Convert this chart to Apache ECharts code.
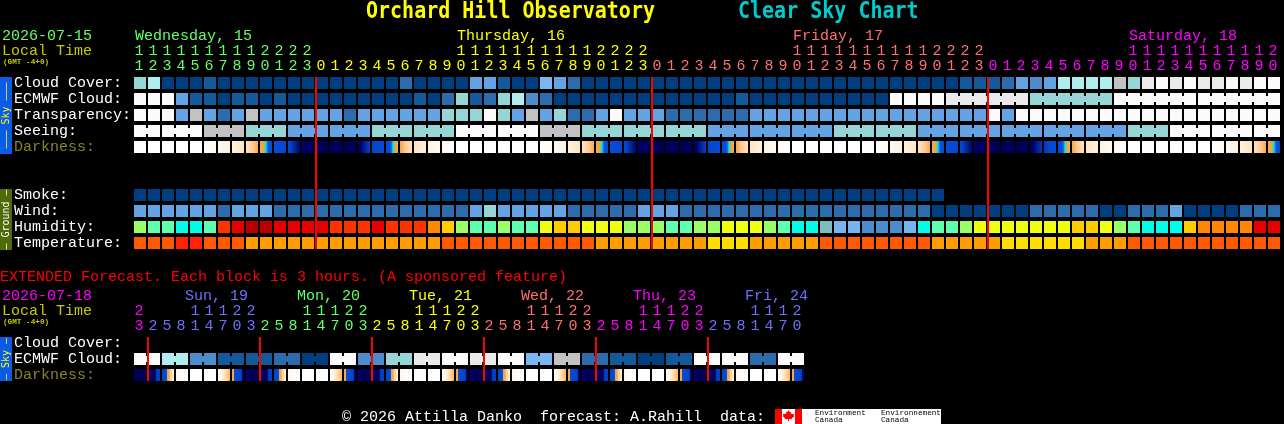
<!DOCTYPE html>
<html><head><meta charset="utf-8">
<style>html,body{margin:0;padding:0;background:#000;overflow:hidden}#c{width:1284px;height:424px}</style>
<script src="https://cdn.jsdelivr.net/npm/echarts@6/dist/echarts.min.js"></script>
</head><body><div id="c"></div>
<script>
const hourLabels = [11,12,13,14,15,16,17,18,19,20,21,22,23,
 0,1,2,3,4,5,6,7,8,9,10,11,12,13,14,15,16,17,18,19,20,21,22,23,
 0,1,2,3,4,5,6,7,8,9,10,11,12,13,14,15,16,17,18,19,20,21,22,23,
 0,1,2,3,4,5,6,7,8,9,10,11,12,13,14,15,16,17,18,19,20];
const rowLabels = ['Cloud Cover:','ECMWF Cloud:','Transparency:','Seeing:','Darkness:','','','Smoke:','Wind:','Humidity:','Temperature:'];
const cloudCover = [60,70,0,0,0,10,0,0,0,0,
 0,0,0,0,0,0,0,0,0,20,
 0,0,0,0,40,40,10,0,0,50,
 40,20,0,0,0,0,0,0,0,0,
 0,0,0,0,0,0,0,0,0,0,
 0,0,0,0,0,0,0,0,0,10,
 10,10,20,40,30,40,70,70,70,70,
 80,60,90,100,90,100,90,90,100,90,
 100,100];
const ecmwfCloud = [100,100,100,40,10,10,0,10,10,0,
 10,0,0,0,0,0,0,0,0,0,
 10,0,20,60,10,20,60,70,30,20,
 0,0,0,0,0,0,0,0,0,0,
 0,0,0,10,0,0,0,0,0,0,
 0,0,0,0,100,100,100,100,90,90,
 90,90,90,90,60,60,60,60,60,60,
 100,100,100,100,100,100,100,100,100,100,
 100,100];
const transparency = [100,100,100,40,80,40,20,40,80,40,
 40,40,40,40,40,20,40,40,40,40,
 40,40,60,60,60,100,60,40,80,40,
 60,20,20,40,100,40,40,40,20,20,
 20,20,20,20,40,40,40,40,40,40,
 40,40,40,40,40,40,40,40,40,40,
 40,100,40,100,100,100,100,100,100,100,
 100,100,100,100,100,100,100,100,100,100,
 100,100];
const seeing = [100,100,100,100,100,80,80,80,60,60,
 60,40,40,40,40,40,40,60,60,60,
 60,60,60,100,100,100,100,100,100,80,
 80,80,60,60,60,60,60,60,60,60,
 60,40,40,40,40,40,40,40,40,40,
 60,60,60,60,60,60,40,40,40,40,
 40,40,40,40,40,40,40,40,40,40,
 40,60,60,60,100,100,100,100,100,100,
 100,100];
const darknessEdges = [-4,-4,-4,-4,-4,-4,-3.4,-2.8,-2.2,-0.3,
 2.2,2.8,5,5.5,5.5,5.5,5.5,3.2,2.5,-0.2,
 -2.2,-2.8,-3.4,-4,-4,-4,-4,-4,-4,-4,
 -3.4,-2.8,-2.2,-0.3,2.2,2.8,5,5.5,5.5,5.5,
 5.5,3.2,2.5,-0.2,-2.2,-2.8,-3.4,-4,-4,-4,
 -4,-4,-4,-4,-3.4,-2.8,-2.2,-0.3,2.2,2.8,
 5,5.5,5.5,5.5,5.5,3.5,2.5,-0.2,-2.2,-2.8,
 -3.4,-4,-4,-4,-4,-4,-4,-4,-3.4,-2.8,
 -2.2,-0.3,2.2];
const smoke = [0,0,0,0,0,0,0,0,0,0,
 0,0,0,0,0,0,0,0,0,0,
 0,0,0,0,0,0,0,0,0,0,
 0,0,0,0,0,0,0,0,0,0,
 0,0,0,0,0,0,0,0,0,0,
 0,0,0,0,0,0,0,0];
const wind = [14,14,14,14,14,14,8,14,14,14,
 8,8,8,8,8,8,8,8,8,8,
 8,8,8,8,14,20,14,14,14,14,
 14,8,8,8,8,8,14,14,14,8,
 8,8,8,8,8,8,8,8,8,8,
 8,8,8,8,8,8,8,3,3,3,
 3,3,3,3,8,8,8,8,8,3,
 3,8,8,8,14,3,3,3,3,8,
 8,8];
const humidity = [57,52,52,47,47,52,77,82,87,87,
 82,82,82,82,77,77,77,82,77,77,
 77,72,67,57,52,52,57,52,52,62,
 67,67,62,62,62,57,57,57,52,52,
 57,57,62,62,62,57,52,47,47,42,
 37,37,32,32,32,37,47,52,52,57,
 62,62,62,62,62,62,62,67,67,62,
 57,52,47,47,47,67,72,72,72,72,
 82,82];
const temperature = [27,27,27,32,32,27,27,27,22,22,
 22,22,22,22,22,22,22,22,22,22,
 22,22,27,27,27,27,27,27,27,27,
 27,27,27,22,22,22,22,22,22,22,
 22,18,18,18,22,22,22,22,22,27,
 27,27,27,27,27,27,27,22,22,22,
 22,22,18,18,18,18,18,18,22,22,
 22,27,27,27,27,27,27,27,27,27,
 27,27];
const midnightCols = [13,37,61];
const dayHeaders = [['Wednesday, 15',0],['Thursday, 16',23],['Friday, 17',47],['Saturday, 18',71]];

const extHourLabels = [23,2,5,8,11,14,17,20,23,2,5,8,11,14,17,20,23,2,5,8,11,14,17,20,23,
 2,5,8,11,14,17,20,23,2,5,8,11,14,17,20,23,2,5,8,11,14,17,20];
const extRowLabels = ['Cloud Cover:','ECMWF Cloud:','Darkness:'];
const extEcmwf = [100,100,70,70,30,30,10,10,10,10,
 20,20,0,0,100,100,35,35,60,60,
 90,90,100,100,90,90,100,100,50,50,
 80,80,20,20,10,10,0,0,10,10,
 100,100,100,100,20,20,100,100];
const extDarknessEdges = [5.5,5.5,3.2,-3,-4,-4,-4,-0.5,4.8,5.5,
 3.2,-3,-4,-4,-4,-0.5,4.8,5.5,3.2,-3,
 -4,-4,-4,-0.5,4.8,5.5,3.2,-3,-4,-4,
 -4,-0.5,4.8,5.5,3.2,-3,-4,-4,-4,-0.5,
 4.8,5.5,3.2,-3,-4,-4,-4,-0.5,4.8];
const extMidnightCols = [1,9,17,25,33,41];
const extDayHeaders = [['Sun, 19',4],['Mon, 20',12],['Tue, 21',20],['Wed, 22',28],['Thu, 23',36],['Fri, 24',44]];

const skyPalette = ['#003f7f','#135a9a','#2c6cad','#4c8ccc','#63a3e4','#7ab6f2','#95d5d5','#aeeeee','#c2c2c2','#eaeaea','#fbfbfb'];
const humPalette = [[35,'#4c8ccc'],[40,'#78b4f0'],[45,'#80bcbc'],[50,'#00ffe8'],[55,'#5fffb0'],[60,'#99ff66'],[65,'#eeff11'],[70,'#ffcc00'],[75,'#ff8800'],[80,'#ff3300'],[85,'#e80000'],[101,'#b80000']];
const tempPalette = [[20,'#ffdd00'],[25,'#ff9c00'],[30,'#ff5a00'],[60,'#ff2200']];
const windPalette = [[6,'#003f7f'],[12,'#2c6cad'],[17,'#63a3e4'],[99,'#95d5d5']];
const darkRamp = [[-4,'#ffffff'],[-3.4,'#fffaf2'],[-2.8,'#fff1dd'],[-2.2,'#ffe4c0'],[-1,'#ffc888'],[-0.3,'#f8a850'],[0.4,'#e8a840'],[0.7,'#60d090'],[0.95,'#10e0e0'],[1.25,'#0a78e0'],[1.6,'#0650d8'],[3,'#0648d0'],[4,'#002a9c'],[5,'#000070'],[5.5,'#000058']];
const extDarkRamp = [[-4,'#ffffff'],[-3,'#fff6ea'],[-2.2,'#ffe4c0'],[-1,'#ffc888'],[-0.3,'#f8a850'],[0.5,'#e8a840'],[0.6,'#0650d8'],[3.9,'#0040c0'],[4.1,'#000068'],[5.5,'#000058']];
const dayColors = ['#66ff66','#ffff00','#ff7070','#ff00ff','#7070ff'];
const WHITE='#ffffff', OLIVE='#85852a', LOCAL='#c8c800';
const MONO='"Liberation Mono", monospace';
const TITLE='bold 20px "DejaVu Sans Mono", monospace';
const SIDE='10px "DejaVu Sans Mono", monospace';
const FONT='15px '+MONO;

const sky = v => skyPalette[Math.floor(v/10)];
const thresh = p => v => p.find(t => v < t[0])[1];
function hex(c){return [1,3,5].map(i=>parseInt(c.substr(i,2),16));}
function ramp(m,stops){
  for(let i=1;i<stops.length;i++){
    if(m<=stops[i][0]){
      const a=stops[i-1],b=stops[i],t=(m-a[0])/(b[0]-a[0]);
      const A=hex(a[1]),B=hex(b[1]);
      return 'rgb('+A.map((x,k)=>Math.round(x+(B[k]-x)*t)).join(',')+')';
    }
  }
  return stops[stops.length-1][1];
}
function cellSeries(gridIdx,row,values,colorOf,groupOf){
  return {type:'custom',xAxisIndex:gridIdx?2:0,yAxisIndex:gridIdx,silent:true,z:2,
    encode:{x:0,y:1},
    data:values.map((v,i)=>[i,row,v]),
    renderItem(p,api){
      const c=api.coord([api.value(0),api.value(1)]),i=api.value(0);
      const bw=api.size([1,0])[0];
      const fill=colorOf(values[i]);
      const kids=[{type:'rect',shape:{x:c[0]-bw/2,y:c[1]-6,width:bw-2,height:12},style:{fill}}];
      if(groupOf&&i+1<values.length&&groupOf(i)!==null&&groupOf(i)===groupOf(i+1))
        kids.push({type:'rect',shape:{x:c[0]+bw/2-2,y:c[1]-3,width:2,height:6},style:{fill}});
      return {type:'group',children:kids};
    }};
}
function darkSeries(gridIdx,row,edges,stopsList){
  const vals=edges.slice(0,-1);
  return {type:'custom',xAxisIndex:gridIdx?2:0,yAxisIndex:gridIdx,silent:true,z:2,encode:{x:0,y:1},
    data:vals.map((v,i)=>[i,row,v]),
    renderItem(p,api){
      const c=api.coord([api.value(0),api.value(1)]),i=api.value(0);
      const bw=api.size([1,0])[0];
      const a=edges[i],b=edges[i+1],stops=[];
      for(let k=0;k<=24;k++){stops.push({offset:k/24,color:ramp(a+(b-a)*k/24,stopsList)});}
      return {type:'rect',shape:{x:c[0]-bw/2,y:c[1]-6,width:bw-2,height:12},
        style:{fill:new echarts.graphic.LinearGradient(0,0,1,0,stops)}};
    }};
}
function lineSeries(gridIdx,cols,lastRow){
  return {type:'custom',xAxisIndex:gridIdx?2:0,yAxisIndex:gridIdx,silent:true,z:5,encode:{x:0},
    data:cols.map(c=>[c,0]),
    renderItem(p,api){
      const c=api.coord([api.value(0),0]),e=api.coord([api.value(0),lastRow]);
      const bw=api.size([1,0])[0];
      return {type:'rect',shape:{x:c[0]-bw/2-1,y:c[1]-6,width:2,height:e[1]+6-(c[1]-6)},style:{fill:'#ff0000'}};
    }};
}
function headerSeries(gridIdx,headers,colors,dx){
  return {type:'custom',xAxisIndex:gridIdx?2:0,yAxisIndex:gridIdx,silent:true,z:3,encode:{x:0},
    data:headers.map(h=>[h[1],0]),
    renderItem(p,api){
      const c=api.coord([api.value(0),0]);
      const bw=api.size([1,0])[0];
      return {type:'text',x:c[0]-bw/2+dx,y:c[1]-47,style:{text:headers[p.dataIndex][0],fill:colors[p.dataIndex],font:FONT,verticalAlign:'middle',align:'left'}};
    }};
}
function dayIndex(i){return i<13?0:i<37?1:i<61?2:3;}
function extDayIndex(i){return i<1?3:i<9?4:i<17?0:i<25?1:i<33?2:i<41?3:4;}
function hourAxis(grid,labels,colorFn,tens){
  return {type:'category',gridIndex:grid,position:'top',offset:tens?15:0,data:labels.map(String),
    axisLine:{show:false},axisTick:{show:false},splitLine:{show:false},
    axisLabel:{show:true,interval:0,hideOverlap:false,margin:9,verticalAlign:'middle',fontFamily:MONO,fontSize:15,padding:[0,4,0,0],
      color:(v,i)=>colorFn(i),
      formatter:v=>tens?(+v>=10?String(Math.floor(+v/10)):''):String(+v%10)}};
}
function rowAxis(grid,labels){
  return {type:'category',gridIndex:grid,inverse:true,data:labels,
    axisLine:{show:false},axisTick:{show:false},splitLine:{show:false},
    axisLabel:{show:true,interval:0,align:'left',margin:120,fontFamily:MONO,fontSize:15,padding:[0,0,5,0],
      color:v=>v==='Darkness:'?OLIVE:WHITE}};
}
const mainColor=i=>dayColors[dayIndex(i)];
const extColor=i=>dayColors[extDayIndex(i)];
function txt(x,y,text,fill,font,extra){
  return Object.assign({type:'text',x,y,silent:true,style:{text,fill,font:font||FONT,verticalAlign:'middle',align:'left'}},extra||{});
}
function bar(y,h,fill,label,color,cy){
  return [{type:'rect',silent:true,shape:{x:0,y,width:12,height:h},style:{fill}},
   {type:'text',silent:true,x:6,y:cy,rotation:Math.PI/2,style:{text:label,fill:color,font:SIDE,align:'center',verticalAlign:'middle'}}];
}
const leafPoints=[[788.5,410],[789.8,412.3],[791,411.7],[790.6,414.3],[792,413.3],[792.4,414.3],[794.2,414],[793.7,415.8],[794.4,416.2],[791.8,418.3],[792.1,419.3],[789,419],[789,421],[788,421],[788,419],[784.9,419.3],[785.2,418.3],[782.6,416.2],[783.3,415.8],[782.8,414],[784.6,414.3],[785,413.3],[786.4,414.3],[786,411.7],[787.2,412.3]];
const option={
  backgroundColor:'#000',animation:false,tooltip:{show:false},legend:{show:false},
  grid:[{left:134,top:75,width:1148,height:176},{left:134,top:335,width:672,height:48}],
  xAxis:[hourAxis(0,hourLabels,mainColor,false),hourAxis(0,hourLabels,mainColor,true),
         hourAxis(1,extHourLabels,extColor,false),hourAxis(1,extHourLabels,extColor,true)],
  yAxis:[rowAxis(0,rowLabels),rowAxis(1,extRowLabels)],
  series:[
    cellSeries(0,0,cloudCover,sky),
    cellSeries(0,1,ecmwfCloud,sky,i=>i>=58?Math.floor((i-58)/6):null),
    cellSeries(0,2,transparency,sky),
    cellSeries(0,3,seeing,sky,i=>Math.floor((i+1)/3)),
    darkSeries(0,4,darknessEdges,darkRamp),
    cellSeries(0,7,smoke,sky),
    cellSeries(0,8,wind,thresh(windPalette)),
    cellSeries(0,9,humidity,thresh(humPalette)),
    cellSeries(0,10,temperature,thresh(tempPalette)),
    lineSeries(0,midnightCols,10),
    headerSeries(0,dayHeaders,[0,1,2,3].map(i=>dayColors[i]),1),
    cellSeries(1,1,extEcmwf,sky,i=>Math.floor(i/2)),
    darkSeries(1,2,extDarknessEdges,extDarkRamp),
    lineSeries(1,extMidnightCols,2),
    headerSeries(1,extDayHeaders,[4,0,1,2,3,4].map(i=>dayColors[i]),-5)
  ],
  graphic:{elements:[
    txt(366,12.5,'Orchard Hill Observatory','#ffff00',TITLE,{scaleY:1.12}),
    txt(738,12.5,'Clear Sky Chart','#00cccc',TITLE,{scaleY:1.12}),
    txt(2,36,'2026-07-15','#66ff66'),
    txt(2,51,'Local Time',LOCAL),
    txt(3,62,'(GMT -4+0)',LOCAL,'bold 7.7px '+MONO),
    ...bar(77,77,'#0a5ce6','\u2014\u2014\u2014 Sky \u2014\u2014\u2014','#ffff00',115.5),
    ...bar(189,61,'#4f6a08','\u2014 Ground \u2014','#ffffff',219.5),
    txt(0,277,'EXTENDED Forecast. Each block is 3 hours. (A sponsored feature)','#ff0000'),
    txt(2,296,'2026-07-18','#ff00ff'),
    txt(2,311,'Local Time',LOCAL),
    txt(3,322,'(GMT -4+0)',LOCAL,'bold 7.7px '+MONO),
    ...bar(337,44,'#0a5ce6','\u2014 Sky \u2014','#ffff00',359),
    txt(342,417,'\u00a9 2026 Attilla Danko  forecast: A.Rahill  data:','#ffffff'),
    {type:'rect',silent:true,shape:{x:775,y:409,width:166,height:15},style:{fill:'#ffffff'}},
    {type:'rect',silent:true,shape:{x:775,y:409,width:7,height:15},style:{fill:'#ff0000'}},
    {type:'rect',silent:true,shape:{x:795,y:409,width:7,height:15},style:{fill:'#ff0000'}},
    {type:'polygon',silent:true,shape:{points:leafPoints},style:{fill:'#ff0000'}},
    txt(815,413,'Environment','#000','7.7px '+MONO),
    txt(815,420,'Canada','#000','7.7px '+MONO),
    txt(881,413,'Environnement','#000','7.7px '+MONO),
    txt(881,420,'Canada','#000','7.7px '+MONO)
  ]}
};
const chart=echarts.init(document.getElementById('c'),null,{renderer:'canvas',width:1284,height:424});
chart.setOption(option);
</script>
</body></html>
